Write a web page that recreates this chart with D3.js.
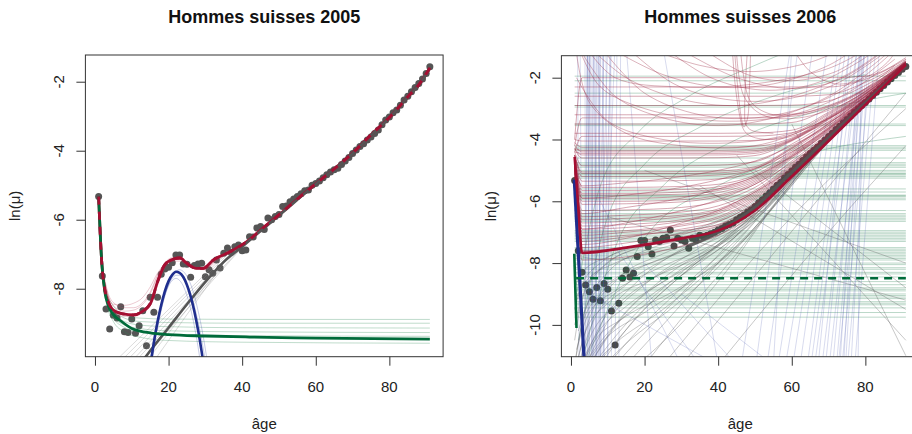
<!DOCTYPE html>
<html>
<head>
<meta charset="utf-8">
<script src="https://cdn.jsdelivr.net/npm/d3@7"></script>
<style>
  body { margin: 0; background: #fff; }
  svg { display: block; font-family: "Liberation Sans", Arial, Helvetica, sans-serif; }
</style>
</head>
<body>
<script>
// ---------- data ----------
const ageTicks = [0, 20, 40, 60, 80];
const ages = d3.range(1, 92);

// observed ln(mu), ages 1..91
const mu2005 = [
  -5.33, -7.63, -8.59, -9.17, -8.77, -8.85, -8.52, -9.25, -9.27, -8.88,
  -9.29, -9.07, -8.64, -9.65, -8.25, -8.68, -8.25, -7.58, -7.43, -7.38,
  -7.25, -7.02, -7.02, -7.28, -7.29, -7.67, -7.33, -7.28, -7.26, -7.65,
  -7.45, -7.55, -7.17, -7.40, -6.97, -6.82, -6.95, -6.78, -6.73, -6.90,
  -6.88, -6.49, -6.50, -6.24, -6.20, -6.28, -5.95, -6.00, -5.91, -5.85,
  -5.62, -5.60, -5.48, -5.40, -5.33, -5.25, -5.16, -5.14, -5.00, -4.95,
  -4.88, -4.78, -4.70, -4.62, -4.55, -4.51, -4.40, -4.30, -4.20, -4.08,
  -3.98, -3.88, -3.80, -3.69, -3.60, -3.50, -3.40, -3.25, -3.11, -3.02,
  -2.90, -2.82, -2.68, -2.53, -2.42, -2.29, -2.17, -2.05, -1.92, -1.76,
  -1.57
];
const mu2006 = [
  -5.33, -7.60, -8.30, -8.71, -8.93, -9.17, -8.79, -9.22, -8.66, -8.85,
  -9.55, -10.65, -9.30, -8.49, -8.22, -8.45, -8.33, -7.79, -7.27, -7.27,
  -7.47, -7.71, -7.25, -7.30, -7.20, -7.17, -6.93, -7.45, -7.20, -7.25,
  -7.30, -7.52, -7.20, -7.25, -7.10, -7.15, -7.10, -7.05, -7.00, -6.93,
  -6.88, -6.80, -6.75, -6.70, -6.60, -6.52, -6.45, -6.35, -6.27, -6.17,
  -6.05, -5.95, -5.83, -5.72, -5.60, -5.48, -5.38, -5.25, -5.13, -5.02,
  -4.90, -4.80, -4.68, -4.57, -4.45, -4.35, -4.24, -4.12, -4.02, -3.90,
  -3.80, -3.68, -3.57, -3.46, -3.35, -3.24, -3.12, -3.01, -2.90, -2.80,
  -2.69, -2.58, -2.47, -2.36, -2.25, -2.14, -2.03, -1.93, -1.83, -1.73,
  -1.64
];

// 2005 fitted curves, [age, ln(mu)]
const total2005 = [[1,-5.33],[1.8,-7.17],[2.7,-8.04],[3.6,-8.38],[5,-8.62],[7.7,-8.73],[10.4,-8.76],
  [12.7,-8.67],[15.2,-8.4],[17,-7.8],[19,-7.3],[21.3,-7.14],[23.1,-7.11],[24.9,-7.26],[27.6,-7.41],
  [29.4,-7.41],[32.1,-7.17],[36.7,-6.93],[42.1,-6.57],[45,-6.3],[50,-5.86],[55,-5.4],[60,-4.96],
  [65,-4.53],[70,-4.07],[75,-3.54],[80,-3.04],[85,-2.44],[88,-2.09],[91,-1.6]];
const child2005 = [[1,-5.33],[1.8,-7.17],[2.7,-8.1],[3.6,-8.48],[5,-8.75],[7,-8.93],[10,-9.15],
  [12,-9.22],[15,-9.28],[20,-9.33],[30,-9.37],[42,-9.4],[60,-9.43],[91,-9.46]];
const hump2005Ages = d3.range(15, 31);
const hump2005 = [-10.27, -9.56, -8.96, -8.47, -8.07, -7.78, -7.60, -7.51, -7.54, -7.66,
  -7.89, -8.22, -8.65, -9.19, -9.83, -10.58];
const senes2005 = [[11.5,-10.3],[14.5,-9.87],[20,-9.13],[25,-8.45],[30,-7.8],[35,-7.22],[40,-6.78],
  [45,-6.33],[50,-5.88],[55,-5.42],[60,-4.97],[65,-4.54],[70,-4.08],[75,-3.55],[80,-3.05],
  [85,-2.45],[88,-2.1],[91,-1.62]];

// 2005 sample curves
const childSampleAges2005 = [1, 2, 3, 5, 8, 12, 20, 40, 91];
const childSamples2005 = [
  [-5.33, -7.3, -8.0, -8.5, -8.75, -8.85, -8.88, -8.89, -8.89],
  [-5.33, -7.35, -8.1, -8.6, -8.85, -8.95, -8.98, -9.0, -9.0],
  [-5.33, -7.4, -8.15, -8.65, -8.95, -9.05, -9.1, -9.13, -9.14],
  [-5.33, -7.45, -8.25, -8.8, -9.05, -9.15, -9.22, -9.25, -9.27],
  [-5.33, -7.5, -8.3, -8.85, -9.12, -9.25, -9.32, -9.36, -9.38],
  [-5.33, -7.5, -8.35, -8.95, -9.25, -9.4, -9.5, -9.55, -9.58]
];
const totalSampleAges2005 = [1, 2, 3, 5, 8, 10.5, 13, 15, 17, 19, 21, 23, 25, 27.5, 30, 33, 37, 42];
const totalSamples2005 = [
  [-5.33, -7.2, -7.9, -8.4, -8.55, -8.55, -8.4, -8.1, -7.6, -7.25, -7.1, -7.1, -7.22, -7.38, -7.38, -7.15, -6.9, -6.57],
  [-5.33, -7.25, -7.95, -8.5, -8.65, -8.62, -8.45, -8.15, -7.65, -7.3, -7.15, -7.15, -7.28, -7.43, -7.42, -7.16, -6.9, -6.57],
  [-5.33, -7.3, -8.0, -8.45, -8.48, -8.42, -8.25, -7.95, -7.55, -7.3, -7.2, -7.2, -7.3, -7.4, -7.38, -7.15, -6.9, -6.57],
  [-5.33, -7.35, -8.1, -8.65, -8.8, -8.8, -8.7, -8.45, -7.9, -7.38, -7.18, -7.12, -7.25, -7.44, -7.45, -7.2, -6.92, -6.57]
];
const humpSampleAges2005 = d3.range(15, 32);
const humpSamples2005 = [
  [-10.1, -9.48, -8.95, -8.5, -8.15, -7.88, -7.7, -7.61, -7.61, -7.7, -7.88, -8.15, -8.5, -8.95, -9.48, -10.1, -10.8],
  [-10.4, -9.68, -9.08, -8.58, -8.2, -7.92, -7.76, -7.7, -7.76, -7.92, -8.2, -8.58, -9.08, -9.68, -10.4, -11.2, -12.0],
  [-10.45, -9.75, -9.14, -8.63, -8.2, -7.87, -7.64, -7.5, -7.45, -7.5, -7.64, -7.87, -8.2, -8.63, -9.14, -9.75, -10.45]
];
const senesSamples2005 = [
  [[5.5,-10.1],[36,-6.95]], [[7,-10.1],[37,-6.9]], [[8.5,-10.1],[38,-6.85]], [[10,-10.1],[38,-6.9]],
  [[11,-10.1],[40,-6.78]], [[12.5,-10.1],[40,-6.8]], [[14,-10.1],[36,-7.1]], [[16,-10.1],[35,-7.25]]
];

// 2006 fitted curves
const total2006Ages = [1, 2, 3, 15, 30, 40, 50, 60, 70, 80, 91];
const total2006 = [-4.56, -6.2, -7.67, -7.5, -7.2, -6.95, -6.3, -5.2, -4.05, -2.88, -1.58];
const senes2006 = [[32,-7.45],[35,-7.3],[40,-7.0],[45,-6.62],[50,-6.2],[55,-5.63],[60,-5.06],
  [65,-4.5],[70,-3.93],[75,-3.37],[80,-2.81],[85,-2.25],[91,-1.62]];
const hump2006 = [[0.9,-5.3],[3.6,-11.2]];
const child2006 = [[0.9,-7.7],[1.5,-10.1]];
const childLevel2006 = -8.49;

// 2006 sample curves
const childLevels2006 = [-1.95, -2.1, -2.5, -2.9, -2.95, -3.5, -3.55, -4.2, -4.25, -4.3, -4.35, -4.6,
  -4.75, -4.8, -4.85, -4.9, -5.0, -5.05, -5.1, -5.12, -5.15, -5.2, -5.25, -5.6, -5.7, -5.8, -5.82,
  -5.85, -5.9, -5.95, -6.3, -6.4, -6.45, -6.5, -6.55, -6.6, -6.65, -6.95, -7.0, -7.05, -7.1, -7.15,
  -7.2, -7.25, -7.3, -7.5, -7.55, -7.6, -7.65, -7.7, -7.75, -7.8, -7.85, -7.9, -8.0, -8.05, -8.15,
  -8.2, -8.3, -8.35, -8.45, -8.6, -8.7, -8.8, -8.85, -8.9, -9.0, -9.05, -9.1, -9.15, -9.25, -9.3,
  -9.35, -9.45, -9.6, -9.75];
const childArcs2006 = [
  [[2,-10.5],[10,-6.5],[20,-4.8],[35,-3.6],[55,-2.6],[80,-1.9]],
  [[3,-11.2],[12,-7.5],[25,-5.5],[45,-4.0],[70,-3.0],[91,-2.5]],
  [[1.5,-9],[8,-5.5],[18,-3.8],[32,-2.6],[50,-1.6],[60,-1.1]],
  [[4,-11.2],[20,-7.2],[40,-5.5],[60,-4.6],[91,-3.9]]
];
const totalSampleAges2006 = [1, 3, 15, 30, 40, 50, 60, 70, 80, 91];
const totalSamples2006 = [
  [-4.9, -7.9, -7.8, -7.45, -7.1, -6.4, -5.25, -4.08, -2.9, -1.6],
  [-4.7, -7.5, -7.35, -7.05, -6.8, -6.2, -5.15, -4.02, -2.87, -1.58],
  [-4.8, -7.3, -7.15, -6.9, -6.65, -6.05, -5.05, -3.98, -2.85, -1.58],
  [-5.0, -7.1, -7.0, -6.8, -6.55, -5.95, -4.98, -3.95, -2.83, -1.57],
  [-4.7, -6.9, -6.85, -6.65, -6.4, -5.85, -4.9, -3.9, -2.8, -1.57],
  [-4.6, -6.7, -6.65, -6.5, -6.3, -5.75, -4.85, -3.85, -2.78, -1.56],
  [-4.9, -6.5, -6.45, -6.35, -6.15, -5.65, -4.78, -3.82, -2.76, -1.56],
  [-4.7, -6.3, -6.28, -6.2, -6.0, -5.55, -4.7, -3.78, -2.74, -1.55],
  [-4.8, -6.1, -6.08, -6.02, -5.85, -5.45, -4.62, -3.72, -2.72, -1.55],
  [-4.6, -5.9, -5.9, -5.85, -5.72, -5.35, -4.55, -3.68, -2.7, -1.55],
  [-4.7, -5.75, -5.75, -5.7, -5.6, -5.25, -4.5, -3.64, -2.68, -1.54],
  [-4.5, -5.55, -5.55, -5.52, -5.45, -5.15, -4.42, -3.6, -2.66, -1.54],
  [-4.6, -5.35, -5.35, -5.33, -5.28, -5.05, -4.35, -3.55, -2.64, -1.53],
  [-4.5, -5.2, -5.2, -5.19, -5.15, -4.95, -4.3, -3.5, -2.62, -1.53],
  [-4.5, -5.05, -5.05, -5.04, -5.02, -4.88, -4.25, -3.47, -2.6, -1.53],
  [-4.4, -4.85, -4.85, -4.85, -4.83, -4.72, -4.15, -3.42, -2.58, -1.52],
  [-4.3, -4.6, -4.6, -4.6, -4.59, -4.52, -4.05, -3.36, -2.55, -1.52],
  [-4.2, -4.4, -4.4, -4.4, -4.4, -4.36, -4.0, -3.3, -2.52, -1.51],
  [-4.1, -4.25, -4.25, -4.25, -4.25, -4.22, -3.95, -3.25, -2.5, -1.51],
  [-4.0, -4.05, -4.05, -4.05, -4.05, -4.03, -3.85, -3.2, -2.47, -1.5],
  [-3.8, -3.8, -3.8, -3.8, -3.8, -3.79, -3.7, -3.12, -2.44, -1.5],
  [-3.5, -3.5, -3.5, -3.5, -3.5, -3.5, -3.45, -3.0, -2.4, -1.49],
  [-3.2, -3.2, -3.2, -3.2, -3.2, -3.2, -3.18, -2.9, -2.35, -1.48],
  [-2.9, -2.9, -2.9, -2.9, -2.9, -2.9, -2.89, -2.75, -2.25, -1.47],
  [-2.6, -2.6, -2.6, -2.6, -2.6, -2.6, -2.6, -2.55, -2.15, -1.45],
  [-2.3, -2.3, -2.3, -2.3, -2.3, -2.3, -2.3, -2.3, -2.05, -1.4],
  [-5.2, -7.4, -7.2, -6.7, -6.3, -5.7, -4.95, -3.95, -2.85, -1.58],
  [-5.0, -6.9, -6.7, -6.3, -5.95, -5.45, -4.75, -3.85, -2.8, -1.57],
  [-5.1, -6.4, -6.2, -5.9, -5.6, -5.2, -4.55, -3.75, -2.76, -1.56],
  [-4.9, -5.9, -5.8, -5.55, -5.3, -4.95, -4.4, -3.65, -2.72, -1.55],
  [-4.8, -5.5, -5.4, -5.2, -5.0, -4.7, -4.2, -3.55, -2.68, -1.54],
  [-4.7, -7.2, -7.1, -6.95, -6.75, -6.1, -5.05, -3.98, -2.84, -1.58],
  [-4.6, -7.6, -7.5, -7.25, -6.95, -6.3, -5.2, -4.05, -2.88, -1.59],
  [-4.6, -6.6, -6.55, -6.45, -6.25, -5.7, -4.82, -3.84, -2.77, -1.56],
  [-4.7, -6.0, -6.0, -5.95, -5.8, -5.4, -4.58, -3.7, -2.71, -1.55],
  [-4.5, -5.1, -5.1, -5.1, -5.08, -4.92, -4.28, -3.49, -2.61, -1.53],
  [-4.4, -4.45, -4.45, -4.45, -4.45, -4.4, -4.02, -3.32, -2.53, -1.51],
  [-4.3, -4.35, -4.35, -4.35, -4.35, -4.31, -3.98, -3.28, -2.51, -1.51],
  [-4.3, -4.5, -4.5, -4.5, -4.5, -4.45, -4.03, -3.34, -2.54, -1.52],
  [-4.9, -6.8, -6.75, -6.6, -6.35, -5.8, -4.88, -3.88, -2.79, -1.57],
  [-4.8, -7.0, -6.95, -6.75, -6.5, -5.9, -4.95, -3.93, -2.82, -1.57],
  [-4.6, -5.65, -5.65, -5.62, -5.53, -5.2, -4.46, -3.62, -2.67, -1.54],
  [-4.7, -5.8, -5.8, -5.77, -5.65, -5.3, -4.52, -3.66, -2.69, -1.54],
  [-4.4, -3.9, -3.9, -3.9, -3.9, -3.89, -3.78, -3.16, -2.45, -1.5],
  [-4.2, -3.3, -3.3, -3.3, -3.3, -3.3, -3.25, -2.95, -2.37, -1.48],
  [-4.0, -2.0, -2.0, -2.0, -2.0, -2.0, -2.0, -2.0, -1.95, -1.35]
];
const totalArcs2006 = [
  [[5,-1.0],[15,-2.0],[30,-2.7],[45,-2.9],[60,-2.6],[75,-1.9],[85,-1.1]],
  [[10,-1.0],[25,-1.9],[40,-2.3],[55,-2.2],[70,-1.6],[78,-1.0]],
  [[3,-1.2],[12,-2.6],[25,-3.3],[40,-3.55],[55,-3.3],[70,-2.6],[82,-1.6],[88,-1.0]],
  [[20,-1.0],[35,-1.6],[50,-1.8],[65,-1.5],[75,-1.0]],
  [[44.5,-1.2],[45.3,-2.3],[46.3,-3.3],[47,-3.6],[48,-3.3],[48.5,-2.3],[48.8,-1.2]],
  [[45,-1.2],[47,-2.6],[52,-3.2],[62,-3.3],[75,-2.8],[85,-2.0],[91,-1.5]],
  [[1.5,-1.2],[5,-2.8],[15,-3.8],[30,-4.2],[50,-4.2],[65,-3.6],[80,-2.6],[91,-1.5]],
  [[2,-1.0],[8,-2.3],[20,-3.0],[40,-3.4],[60,-3.2],[75,-2.5],[88,-1.4]],
  [[60,-1.0],[65,-1.8],[72,-2.2],[80,-2.0],[86,-1.5],[89,-1.0]],
  [[30,-1.1],[45,-2.0],[60,-2.35],[72,-2.1],[82,-1.4],[86,-1.0]],
  [[8,-1.0],[20,-2.5],[35,-3.2],[50,-3.3],[65,-2.9],[78,-2.1],[88,-1.1]],
  [[15,-1.0],[28,-2.2],[42,-2.7],[58,-2.7],[72,-2.2],[84,-1.3]],
  [[25,-1.0],[38,-2.0],[52,-2.4],[66,-2.2],[78,-1.5],[84,-1.0]],
  [[35,-1.0],[48,-1.9],[60,-2.1],[72,-1.8],[80,-1.2]],
  [[1.5,-2.0],[10,-3.4],[25,-4.0],[45,-4.1],[60,-3.8],[75,-3.0],[88,-1.8],[91,-1.4]],
  [[4,-1.0],[12,-2.0],[30,-2.3],[50,-2.2],[70,-1.7],[80,-1.1]],
  [[46,-1.0],[47,-2.0],[49,-2.8],[55,-3.2],[65,-3.1],[78,-2.5],[88,-1.6]],
  [[43.8,-1.0],[44.6,-2.2],[45.8,-3.2],[47,-3.7],[49,-3.9],[55,-4.0],[65,-3.7],[78,-2.9],[91,-1.7]],
  [[48,-1.0],[47.5,-2.0],[47.2,-3.0],[47.5,-3.5],[49,-3.7],[55,-3.8]]
];
const senesSamples2006 = [
  [[1,-11.3],[4,-9.5],[10,-8.3],[20,-7.6],[35,-7.1],[50,-6.25],[65,-4.5],[80,-2.8],[91,-1.62]],
  [[1.5,-11.3],[5,-9.8],[12,-8.6],[25,-7.7],[40,-7.0],[55,-5.65],[70,-3.93],[91,-1.62]],
  [[2,-11.3],[6,-9.9],[15,-8.7],[30,-7.6],[45,-6.65],[60,-5.06],[80,-2.8],[91,-1.62]],
  [[3,-11.3],[8,-10.0],[18,-8.6],[32,-7.4],[48,-6.35],[62,-4.85],[91,-1.62]],
  [[4,-11.3],[10,-9.9],[20,-8.7],[35,-7.5],[50,-6.3],[65,-4.5],[91,-1.62]],
  [[5,-11.3],[12,-10.0],[25,-8.5],[40,-7.3],[55,-5.75],[70,-3.95],[91,-1.62]],
  [[6,-11.3],[14,-10.1],[28,-8.5],[42,-7.2],[56,-5.65],[72,-3.7],[91,-1.62]],
  [[8,-11.3],[16,-10.0],[30,-8.4],[45,-6.95],[60,-5.1],[91,-1.62]],
  [[1,-10.5],[3,-9.2],[8,-8.2],[18,-7.5],[30,-7.0],[45,-6.55],[60,-5.06],[91,-1.62]],
  [[1,-10.0],[4,-8.8],[10,-8.0],[20,-7.45],[35,-6.9],[50,-6.05],[65,-4.45],[91,-1.6]],
  [[10,-11.3],[18,-10.2],[32,-8.6],[48,-6.9],[62,-4.9],[91,-1.62]],
  [[12,-11.3],[22,-10.0],[38,-8.0],[52,-6.2],[66,-4.4],[91,-1.62]],
  [[2,-11.3],[6,-10.2],[14,-9.2],[25,-8.3],[40,-7.4],[55,-6.0],[70,-4.0],[91,-1.62]],
  [[3.5,-11.3],[9,-10.4],[20,-9.2],[35,-8.0],[50,-6.6],[65,-4.6],[91,-1.62]],
  [[1,-9.5],[3,-8.7],[8,-8.0],[20,-7.35],[35,-6.85],[50,-6.0],[65,-4.48],[91,-1.6]],
  [[15,-11.3],[25,-10.0],[40,-8.0],[55,-6.0],[70,-4.0],[91,-1.62]],
  [[5,-11.3],[15,-9.6],[30,-8.2],[45,-7.0],[60,-5.2],[91,-1.62]],
  [[7,-11.3],[20,-9.5],[35,-7.9],[50,-6.4],[65,-4.55],[91,-1.62]],
  [[1.5,-10.8],[5,-9.6],[12,-8.9],[25,-8.1],[40,-7.3],[55,-5.9],[70,-3.98],[91,-1.62]],
  [[20,-11.3],[30,-9.8],[45,-7.7],[58,-5.7],[72,-3.75],[91,-1.62]],
  [[1,-11.3],[3,-10.0],[8,-9.0],[18,-8.2],[30,-7.6],[45,-6.7],[60,-5.07],[91,-1.62]],
  [[2.5,-11.3],[7,-10.3],[15,-9.4],[28,-8.4],[42,-7.4],[56,-5.8],[70,-3.96],[91,-1.62]],
  [[4,-11.3],[9,-10.5],[20,-9.6],[35,-8.4],[50,-6.9],[65,-4.7],[91,-1.62]],
  [[6,-11.3],[12,-10.6],[25,-9.5],[40,-8.0],[55,-6.2],[70,-4.05],[91,-1.62]],
  [[9,-11.3],[15,-10.6],[28,-9.4],[42,-7.9],[57,-5.9],[72,-3.8],[91,-1.62]],
  [[1,-8.8],[3,-8.3],[10,-7.8],[25,-7.3],[40,-6.8],[55,-5.6],[70,-3.93],[91,-1.6]],
  [[1,-9.2],[4,-8.6],[12,-8.0],[25,-7.5],[40,-7.0],[55,-5.7],[70,-3.95],[91,-1.6]],
  [[1.5,-11.3],[4,-10.2],[10,-9.3],[22,-8.5],[38,-7.6],[52,-6.4],[67,-4.35],[91,-1.62]],
  [[3,-11.3],[6,-10.6],[14,-9.8],[28,-8.9],[44,-7.6],[58,-5.7],[72,-3.75],[91,-1.62]],
  [[2,-10.2],[5,-9.2],[12,-8.5],[24,-7.9],[38,-7.3],[52,-6.3],[66,-4.4],[91,-1.62]],
  [[18,-11.3],[28,-10.2],[42,-8.3],[56,-6.0],[70,-4.0],[91,-1.62]],
  [[3,-7.8],[10,-7.9],[25,-7.6],[40,-7.1],[55,-5.8],[70,-3.97],[91,-1.62]],
  [[20,-5.0],[91,-8.0]],
  [[35,-5.5],[91,-9.5]],
  [[45,-4.5],[91,-10.5]],
  [[50,-5.0],[91,-8.8]],
  [[10,-6.5],[91,-9.2]],
  [[60,-3.5],[91,-11.0]],
  [[25,-11.3],[60,-6.5],[91,-3.0]],
  [[40,-11.3],[70,-7.0],[91,-4.2]],
  [[30,-11.3],[91,-2.5]]
];
// near-vertical hump samples: [age at bottom, age at top]
const humpSamples2006 = [
  [2.2,1.8],[3,2.5],[3.5,4.5],[4,3.8],[4.5,5],[5,4.6],[5.5,6],[6,5.4],[6.5,7.2],[7,6.5],[7.5,8],
  [8,7.5],[9,8.5],[10,9.5],[11,10.8],[12,12.5],[13,13.5],[5,4.5],[5.5,6.2],[6,7],[6.5,8],[7,9],
  [7.5,10],[8,11],[8.5,12],[6,5],[7,6.2],[8,7.5],[9,8.8],[10,10.5],[4,4.4],[4.5,5.2],
  [46,60],[50,62],[53,66],[56,70],[58,73],[60,74],[62,75],[64,76],[65,77],[66,78],[67,76],
  [68,79],[69,78],[70,80],[71,79],[72,80],[72.5,81],[73,78.5],[73.5,82],[74,79],[74.5,80],
  [75,83],[76,81],[77,84],[78,79]
];
const humpDiagonals2006 = [
  [[8,-6],[30,-11.3]], [[12,-7.5],[35,-11.3]], [[20,-8],[45,-11.3]], [[5,-9],[40,-11.3]],
  [[30,-9],[55,-11.3]], [[25,-1.0],[40,-11.3]], [[55,-11.3],[60,-1.0]], [[15,-1.0],[22,-11.3]]
];

// ---------- drawing ----------
const width = 912, height = 434;
const colRed = '#A50F32', colGreen = '#006B3A', colBlue = '#1F2E8E', colGrey = '#555555';

let svg = d3.select('body').append('svg')
  .attr('width', width)
  .attr('height', height);

function makePanel(p) {
  let x = d3.scaleLinear().domain([-2.6, 94.6]).range([p.left, p.right]);
  let y = d3.scaleLinear().domain(p.ydom).range([p.bottom, p.top]);

  svg.append('clipPath').attr('id', 'clip' + p.id)
    .append('rect')
    .attr('x', p.left).attr('y', p.top)
    .attr('width', p.right - p.left).attr('height', p.bottom - p.top);

  let g = svg.append('g').attr('clip-path', 'url(#clip' + p.id + ')');

  let smooth = d3.line().x(d => x(d[0])).y(d => y(d[1])).curve(d3.curveMonotoneX);
  let round = d3.line().x(d => x(d[0])).y(d => y(d[1])).curve(d3.curveCatmullRom.alpha(0.5));
  let straight = d3.line().x(d => x(d[0])).y(d => y(d[1]));

  function draw(list, color, w, op, gen, dash) {
    g.append('g').selectAll('path')
      .data(list)
      .enter().append('path')
      .attr('d', d => (gen || smooth)(d))
      .attr('fill', 'none')
      .attr('stroke', color)
      .attr('stroke-width', w)
      .attr('stroke-opacity', op)
      .attr('stroke-dasharray', dash || null)
      .attr('stroke-linejoin', 'round');
  }

  function points(vals, color) {
    g.append('g').selectAll('circle')
      .data(vals)
      .enter().append('circle')
      .attr('cx', (d, i) => x(ages[i]))
      .attr('cy', d => y(d))
      .attr('r', 3.5)
      .attr('fill', color);
  }

  // axes
  let xAxis = d3.axisBottom(x).tickValues(ageTicks).tickSize(9).tickFormat('');
  svg.append('g')
    .attr('transform', 'translate(0,' + p.bottom + ')')
    .call(xAxis)
    .call(a => a.select('.domain').remove())
    .selectAll('line').attr('stroke', '#333');
  svg.append('g').selectAll('text')
    .data(ageTicks)
    .enter().append('text')
    .attr('x', d => x(d))
    .attr('y', 391.5)
    .attr('text-anchor', 'middle')
    .attr('font-size', 15)
    .attr('fill', '#222')
    .text(d => d);

  let yAxis = d3.axisLeft(y).tickValues(p.yticks).tickSize(9).tickFormat('');
  svg.append('g')
    .attr('transform', 'translate(' + p.left + ',0)')
    .call(yAxis)
    .call(a => a.select('.domain').remove())
    .selectAll('line').attr('stroke', '#333');
  svg.append('g').selectAll('text')
    .data(p.yticks)
    .enter().append('text')
    .attr('transform', d => 'translate(' + p.ytickX + ',' + y(d) + ') rotate(-90)')
    .attr('text-anchor', 'middle')
    .attr('font-size', 15)
    .attr('fill', '#222')
    .text(d => d);

  // titles and labels
  let cx = (p.left + p.right) / 2;
  svg.append('text')
    .attr('x', cx).attr('y', 23)
    .attr('text-anchor', 'middle')
    .attr('font-size', 18).attr('font-weight', 'bold')
    .attr('fill', '#111')
    .text(p.title);
  svg.append('text')
    .attr('x', cx).attr('y', 429)
    .attr('text-anchor', 'middle')
    .attr('font-size', 15)
    .attr('fill', '#222')
    .text('âge');
  svg.append('text')
    .attr('transform', 'translate(' + p.ylabX + ',' + ((p.top + p.bottom) / 2) + ') rotate(-90)')
    .attr('text-anchor', 'middle')
    .attr('font-size', 15)
    .attr('fill', '#222')
    .text('ln(μ)');

  return { x, y, g, smooth, round, straight, draw, points, p };
}

// ----- left panel: 2005 -----
let L = makePanel({
  id: 'L', left: 85.4, right: 443.1, top: 55, bottom: 356.7,
  ydom: [-9.97, -1.226], yticks: [-2, -4, -6, -8],
  ytickX: 63.5, ylabX: 19.5, title: 'Hommes suisses 2005'
});

L.points(mu2005, '#555');
L.draw(childSamples2005.map(s => s.map((v, i) => [childSampleAges2005[i], v])), '#2E8B57', 1, 0.3);
L.draw(senesSamples2005, '#888', 1, 0.3, L.straight);
L.draw(humpSamples2005.map(s => s.map((v, i) => [humpSampleAges2005[i], v])), '#4455AA', 1, 0.3);
L.draw(totalSamples2005.map(s => s.map((v, i) => [totalSampleAges2005[i], v])), '#C0506A', 1, 0.3);
L.draw([total2005], colRed, 2.8, 1);
L.draw([senes2005], colGrey, 2.6, 1);
L.draw([hump2005.map((v, i) => [hump2005Ages[i], v])], colBlue, 2.6, 1);
L.draw([child2005], colGreen, 2.8, 1);
L.draw([total2005], colRed, 2.8, 1, null, '8,7');

// ----- right panel: 2006 -----
let R = makePanel({
  id: 'R', left: 561.4, right: 919.1, top: 55.7, bottom: 356.7,
  ydom: [-11.03, -1.288], yticks: [-2, -4, -6, -8, -10],
  ytickX: 539.5, ylabX: 496, title: 'Hommes suisses 2006'
});

R.points(mu2006, '#4a4a4a');
R.draw(childLevels2006.map(v => [[1, v], [91, v]]), '#1E7A48', 1, 0.3, R.straight);
R.draw(childArcs2006, '#1E7A48', 1, 0.3);
R.draw(senesSamples2006, '#555', 1, 0.32);
R.draw(humpSamples2006.map(d => [[d[0], -11.5], [d[1], -0.8]]), '#3A4AA8', 1, 0.2, R.straight);
R.draw(humpDiagonals2006, '#3A4AA8', 1, 0.2, R.straight);
R.draw(totalSamples2006.map(s => s.map((v, i) => [totalSampleAges2006[i], v])), '#9B2540', 1, 0.4);
R.draw(totalArcs2006, '#9B2540', 1, 0.35, R.round);
R.draw([senes2006], colGrey, 3, 0.85);
R.draw([child2006], colGreen, 2.6, 1, R.straight);
R.draw([hump2006], colBlue, 3.2, 1, R.straight);
R.draw([total2006.map((v, i) => [total2006Ages[i], v])], colRed, 2.6, 1);
R.draw([[[1.4, childLevel2006], [91, childLevel2006]]], colGreen, 2.4, 1, R.straight, '8,6');

// plot boxes on top
[L.p, R.p].forEach(p => {
  svg.append('rect')
    .attr('x', p.left).attr('y', p.top)
    .attr('width', p.right - p.left).attr('height', p.bottom - p.top)
    .attr('fill', 'none')
    .attr('stroke', '#333')
    .attr('stroke-width', 1);
});
</script>
</body>
</html>
